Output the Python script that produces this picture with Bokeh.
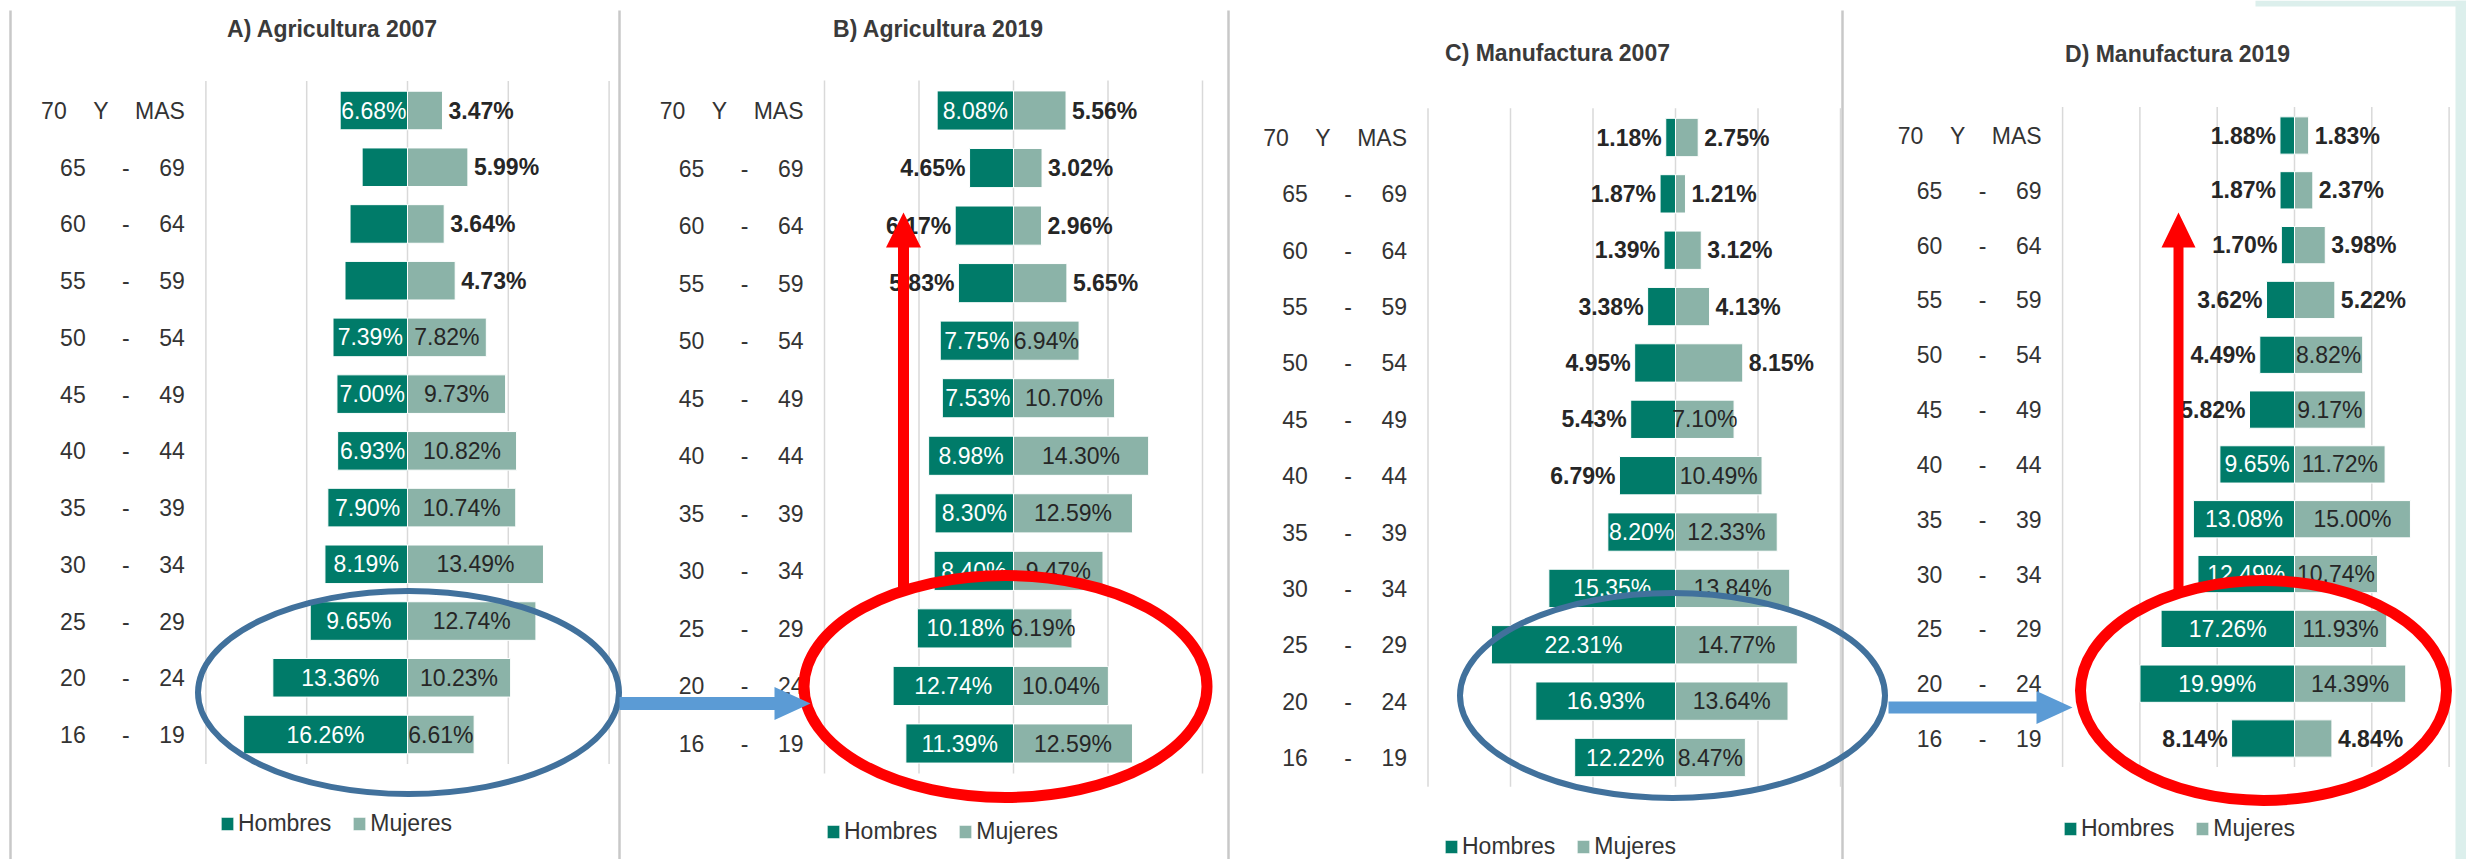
from bokeh.plotting import figure
from bokeh.models import Range1d, ColumnDataSource, Legend, LegendItem
from bokeh.core.properties import value
from bokeh.embed import file_html
from bokeh.resources import INLINE

W, H = 2466, 859
FONT = "Liberation Sans"

# ---------------- data (index 0 = "16 - 19" ... 11 = "70 Y MAS") ----------------
age_lo = ["16", "20", "25", "30", "35", "40", "45", "50", "55", "60", "65", "70"]
age_mid = ["-", "-", "-", "-", "-", "-", "-", "-", "-", "-", "-", "Y"]
age_hi = ["19", "24", "29", "34", "39", "44", "49", "54", "59", "64", "69", "MAS"]

titles = ["A) Agricultura 2007", "B) Agricultura 2019",
          "C) Manufactura 2007", "D) Manufactura 2019"]
series_names = ["Hombres", "Mujeres"]

hombres_agri_2007 = [16.26, 13.36, 9.65, 8.19, 7.90, 6.93, 7.00, 7.39, 6.20, 5.70, 4.50, 6.68]
mujeres_agri_2007 = [6.61, 10.23, 12.74, 13.49, 10.74, 10.82, 9.73, 7.82, 4.73, 3.64, 5.99, 3.47]

hombres_agri_2019 = [11.39, 12.74, 10.18, 8.40, 8.30, 8.98, 7.53, 7.75, 5.83, 6.17, 4.65, 8.08]
mujeres_agri_2019 = [12.59, 10.04, 6.19, 9.47, 12.59, 14.30, 10.70, 6.94, 5.65, 2.96, 3.02, 5.56]

hombres_manu_2007 = [12.22, 16.93, 22.31, 15.35, 8.20, 6.79, 5.43, 4.95, 3.38, 1.39, 1.87, 1.18]
mujeres_manu_2007 = [8.47, 13.64, 14.77, 13.84, 12.33, 10.49, 7.10, 8.15, 4.13, 3.12, 1.21, 2.75]

hombres_manu_2019 = [8.14, 19.99, 17.26, 12.49, 13.08, 9.65, 5.82, 4.49, 3.62, 1.70, 1.87, 1.88]
mujeres_manu_2019 = [4.84, 14.39, 11.93, 10.74, 15.00, 11.72, 9.17, 8.82, 5.22, 3.98, 2.37, 1.83]

# label placement (style): "in" = inside bar, "out" = outside bar end, "none" = no label
pos_h = [
    ["in"] * 8 + ["none", "none", "none", "in"],
    ["in"] * 8 + ["out", "out", "out", "in"],
    ["in"] * 5 + ["out"] * 7,
    ["out"] + ["in"] * 5 + ["out"] * 6,
]
pos_m = [
    ["in"] * 8 + ["out"] * 4,
    ["in"] * 8 + ["out"] * 4,
    ["in"] * 7 + ["out"] * 5,
    ["out"] + ["in"] * 7 + ["out"] * 4,
]

C_H = "#007B69"
C_M = "#8BB3A8"
TXT = "#262626"
GRID = "#d9d9d9"

p = figure(width=W, height=H, output_backend="svg", toolbar_location=None,
           x_range=Range1d(0, W), y_range=Range1d(H, 0),
           min_border=0, min_border_left=0, min_border_right=0,
           min_border_top=0, min_border_bottom=0)
p.xaxis.visible = False
p.yaxis.visible = False
p.grid.visible = False
p.outline_line_color = None
p.background_fill_color = "white"
p.border_fill_color = "white"

# decorative page background on the right
p.quad(left=[2455, 2255], right=[W, W], bottom=[H, 6], top=[0, 0],
       fill_color="#dcefec", line_color=None)

# panel separators
p.segment(x0=[10, 619, 1228, 1842], x1=[10, 619, 1228, 1842],
          y0=[10, 10, 10, 10], y1=[H, H, H, H], line_color="#c8c8c8", line_width=2.5)

panels = [
    dict(key="A", h=hombres_agri_2007, m=mujeres_agri_2007, cx=407, k=10.08,
         ytop=110, ybot=734, ticks=[-20, -10, 0, 10, 20], tx=332, ty=28, lx=219, ly=822),
    dict(key="B", h=hombres_agri_2019, m=mujeres_agri_2019, cx=1013, k=9.45,
         ytop=110, ybot=743, ticks=[-20, -10, 0, 10, 20], tx=938, ty=28, lx=825, ly=830),
    dict(key="C", h=hombres_manu_2007, m=mujeres_manu_2007, cx=1675, k=8.25,
         ytop=137, ybot=757, ticks=[-30, -20, -10, 0, 10, 20], tx=1557, ty=52, lx=1443, ly=845),
    dict(key="D", h=hombres_manu_2019, m=mujeres_manu_2019, cx=2294, k=7.73,
         ytop=135, ybot=738, ticks=[-30, -20, -10, 0, 10, 20], tx=2177, ty=53, lx=2062, ly=827),
]

FS = "23px"

for i, pn in enumerate(panels):
    key = pn["key"]
    k = pn["k"]
    s = (pn["ybot"] - pn["ytop"]) / 11.0
    p.extra_x_ranges[key] = Range1d(-pn["cx"] / k, (W - pn["cx"]) / k)
    p.extra_y_ranges[key] = Range1d(-(H - pn["ybot"]) / s, 11 + pn["ytop"] / s)
    rn = dict(x_range_name=key, y_range_name=key)
    idx = list(range(len(age_lo)))
    ticks = pn["ticks"]

    # grid lines
    p.segment(x0=ticks, x1=ticks, y0=[-0.52] * len(ticks), y1=[11.52] * len(ticks),
              line_color=GRID, line_width=1.5, **rn)

    hv = pn["h"]
    mv = pn["m"]
    src = ColumnDataSource(dict(y=idx, hl=[-v for v in hv], hr=[0] * 12,
                                ml=[0] * 12, mr=mv))
    rh = p.hbar(y="y", left="hl", right="hr", height=0.68, source=src,
                fill_color=C_H, line_color="white", line_width=1, **rn)
    rm = p.hbar(y="y", left="ml", right="mr", height=0.68, source=src,
                fill_color=C_M, line_color="white", line_width=1, **rn)

    def lab(v):
        return "%.2f%%" % v

    hin = [j for j in idx if pos_h[i][j] == "in"]
    hout = [j for j in idx if pos_h[i][j] == "out"]
    min_ = [j for j in idx if pos_m[i][j] == "in"]
    mout = [j for j in idx if pos_m[i][j] == "out"]
    common = dict(text_font=value(FONT), text_font_size=FS, text_baseline="middle", **rn)
    if hin:
        p.text(x=[-hv[j] / 2 for j in hin], y=hin, text=[lab(hv[j]) for j in hin],
               text_align="center", text_color="white", **common)
    if hout:
        p.text(x=[-hv[j] for j in hout], y=hout, text=[lab(hv[j]) for j in hout],
               text_align="right", x_offset=-4, text_color=TXT,
               text_font_style="bold", **common)
    if min_:
        p.text(x=[mv[j] / 2 for j in min_], y=min_, text=[lab(mv[j]) for j in min_],
               text_align="center", text_color=TXT, **common)
    if mout:
        p.text(x=[mv[j] for j in mout], y=mout, text=[lab(mv[j]) for j in mout],
               text_align="left", x_offset=6, text_color=TXT,
               text_font_style="bold", **common)

    # category labels
    gx = ticks[0]
    catc = dict(text_font=value(FONT), text_font_size="23px", text_baseline="middle",
                text_color="#333333", **rn)
    low = idx[:-1]
    p.text(x=[gx] * len(low), y=low, text=[age_hi[j] for j in low], text_align="right",
           x_offset=-21, **catc)
    p.text(x=[gx] * len(low), y=low, text=[age_mid[j] for j in low], text_align="center",
           x_offset=-80, **catc)
    p.text(x=[gx] * len(low), y=low, text=[age_lo[j] for j in low], text_align="center",
           x_offset=-133, **catc)
    p.text(x=[gx], y=[11], text=[age_hi[11]], text_align="right", x_offset=-21, **catc)
    p.text(x=[gx], y=[11], text=[age_mid[11]], text_align="center", x_offset=-105, **catc)
    p.text(x=[gx], y=[11], text=[age_lo[11]], text_align="center", x_offset=-152, **catc)

    # title
    p.text(x=[pn["tx"]], y=[pn["ty"]], text=[titles[i]], text_align="center",
           text_baseline="middle", text_font=value(FONT), text_font_style="bold",
           text_font_size="23px", text_color="#3a3a3a")

    # legend
    leg = Legend(items=[LegendItem(label=series_names[0], renderers=[rh]),
                        LegendItem(label=series_names[1], renderers=[rm])],
                 orientation="horizontal", location=(pn["lx"], H - pn["ly"] - 15),
                 glyph_width=16, glyph_height=17, label_standoff=3, spacing=20,
                 padding=0, margin=0, border_line_color=None,
                 background_fill_alpha=0, label_text_font=FONT,
                 label_text_font_size="23px", label_text_color="#333333",
                 label_height=28)
    p.add_layout(leg)


# ---------------- annotations ----------------
def harrow(x0, x1, yc, shaft, hl, hw):
    xs = [x0, x1 - hl, x1 - hl, x1, x1 - hl, x1 - hl, x0]
    ys = [yc - shaft / 2, yc - shaft / 2, yc - hw / 2, yc, yc + hw / 2, yc + shaft / 2, yc + shaft / 2]
    return xs, ys


def varrow(xc, yb, yt, shaft, hl, hw):
    ys = [yb, yt + hl, yt + hl, yt, yt + hl, yt + hl, yb]
    xs = [xc - shaft / 2, xc - shaft / 2, xc - hw / 2, xc, xc + hw / 2, xc + shaft / 2, xc + shaft / 2]
    return xs, ys


# blue ellipses (2007)
p.ellipse(x=[408, 1672], y=[692, 695], width=[421, 425], height=[203, 205],
          fill_color=None, line_color="#41719C", line_width=6)
# red ellipses (2019)
p.ellipse(x=[1005, 2263], y=[686, 690], width=[403, 366], height=[222, 220],
          fill_color=None, line_color="#FF0000", line_width=11)

b1 = harrow(619, 810, 703, 13, 36, 33)
b2 = harrow(1888, 2072, 707, 12, 36, 33)
p.patches(xs=[b1[0], b2[0]], ys=[b1[1], b2[1]], fill_color="#5B9BD5", line_color=None)

r1 = varrow(903, 590, 212, 11, 35, 35)
r2 = varrow(2178, 592, 212, 10, 35, 34)
p.patches(xs=[r1[0], r2[0]], ys=[r1[1], r2[1]], fill_color="#FF0000", line_color=None)

open("out.html", "w").write(file_html(p, INLINE))
